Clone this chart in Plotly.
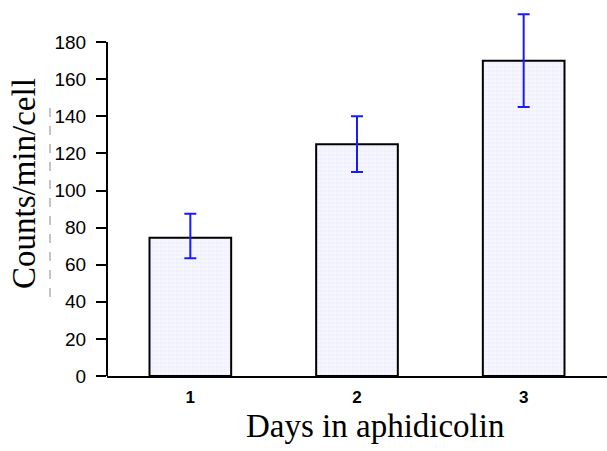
import plotly.graph_objects as go

days = [1, 2, 3]
counts = [74.5, 125, 170]
err_plus = [13, 15, 25]
err_minus = [11, 15, 25]
y_ticks = [0, 20, 40, 60, 80, 100, 120, 140, 160, 180]
x_labels = ["1", "2", "3"]

PH = 371.0  # plot height in px
def py(p):
    return (376 - p) / PH

def px(p):
    return (p - 107) / 500.0

fig = go.Figure()
fig.add_trace(go.Bar(
    x=days, y=counts, width=0.49,
    marker=dict(color="#f7f7ff", line=dict(color="black", width=2),
                pattern=dict(shape="+", fgcolor="#e4e4f8", bgcolor="#f7f7ff", size=4, solidity=0.3)),
    error_y=dict(type="data", symmetric=False, array=err_plus, arrayminus=err_minus,
                 color="#1a1aff", thickness=2, width=6),
))

fig.update_layout(
    width=607, height=451,
    margin=dict(l=107, r=0, t=5, b=75),
    plot_bgcolor="white", paper_bgcolor="white",
    showlegend=False,
    xaxis=dict(range=[0.5, 3.5], tickvals=days, ticktext=x_labels,
               showline=True, linecolor="black", linewidth=2, ticks="",
               showgrid=False, zeroline=False,
               tickfont=dict(family="Liberation Sans", size=17, color="black", weight="bold"),
               ticklabelstandoff=5),
    yaxis=dict(range=[0, 200], tickvals=y_ticks, showline=False,
               ticks="outside", ticklen=10, tickwidth=2, tickcolor="black",
               showgrid=False, zeroline=False, ticklabelstandoff=6,
               tickfont=dict(family="Liberation Sans, Arial", size=19, color="black")),
    font=dict(family="Liberation Sans, Arial", color="black"),
)

# y axis line only up to the last tick (180)
fig.add_shape(type="line", xref="paper", yref="y", x0=0, x1=0, y0=0, y1=y_ticks[-1],
              line=dict(color="black", width=2), layer="above")

fig.add_annotation(text="Days in aphidicolin", xref="paper", yref="paper",
                   x=px(375), y=py(426), xanchor="center", yanchor="middle", showarrow=False,
                   font=dict(family="Liberation Serif, Times New Roman", size=33, color="black"))
fig.add_annotation(text="Counts/min/cell", xref="paper", yref="paper",
                   x=px(24), y=py(184), xanchor="center", yanchor="middle",
                   textangle=-90, showarrow=False,
                   font=dict(family="Liberation Serif, Times New Roman", size=33, color="black"))
fig.add_shape(type="line", xref="paper", yref="paper",
              x0=px(50), x1=px(50), y0=py(108), y1=py(305),
              line=dict(color="#888888", width=1, dash="dash"))

fig.write_html("out.html")
